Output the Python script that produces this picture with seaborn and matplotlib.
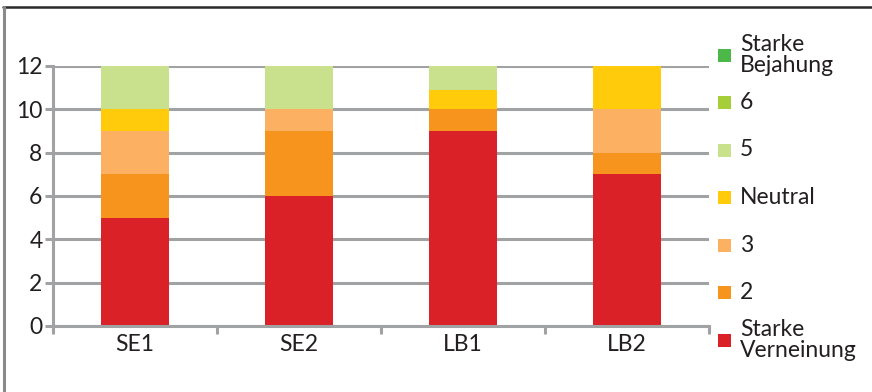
import matplotlib
matplotlib.use("Agg")
import matplotlib.pyplot as plt
from matplotlib.patches import Rectangle
from matplotlib.lines import Line2D
import numpy as np
import pandas as pd
import seaborn as sns

# Answer categories (bottom to top in the stack)
levels = ["Starke\nVerneinung", "2", "3", "Neutral", "5", "6", "Starke\nBejahung"]
colors = ["#da2128", "#f7941d", "#fbb062", "#ffcb0b", "#c9e08c", "#a6ce39", "#4cb848"]

groups = ["SE1", "SE2", "LB1", "LB2"]
starke_verneinung = [5, 6, 9, 7]
stufe_2 = [2, 3, 1, 1]
stufe_3 = [2, 1, 0, 2]
neutral = [1, 0, 0.9, 2]
stufe_5 = [2, 2, 1.1, 0]
stufe_6 = [0, 0, 0, 0]
starke_bejahung = [0, 0, 0, 0]

series = [starke_verneinung, stufe_2, stufe_3, neutral, stufe_5, stufe_6, starke_bejahung]

sns.set_theme(style="white")
plt.rcParams["font.family"] = ["Lato", "DejaVu Sans"]

W, H = 872, 392
fig = plt.figure(figsize=(W / 100, H / 100), dpi=100)
ax = fig.add_axes([53 / W, 66 / H, (709 - 53) / W, (326 - 66) / H])

grid_col = "#a0a2a4"
text_col = "#231f20"
fs = 16.5

# Stacked bars: draw cumulative totals from the top level down
cum = np.cumsum(np.array(series, dtype=float), axis=0)
for i in range(len(levels) - 1, -1, -1):
    df = pd.DataFrame({"group": groups, "value": cum[i]})
    sns.barplot(data=df, x="group", y="value", color=colors[i], width=0.41,
                saturation=1, edgecolor="none", linewidth=0, ax=ax, zorder=2)

ax.set_xlim(-0.5, 3.5)
ax.set_ylim(0, 12)
ax.set_yticks(np.arange(0, 13, 2))
ax.set_xlabel("")
ax.set_ylabel("")
ax.set_axisbelow(True)
ax.yaxis.grid(True, color=grid_col, linewidth=2.2, zorder=0)
ax.xaxis.grid(False)

for side in ["top", "right"]:
    ax.spines[side].set_visible(False)
for side in ["left", "bottom"]:
    ax.spines[side].set_color(grid_col)
    ax.spines[side].set_linewidth(2.2)

ax.tick_params(axis="y", which="major", direction="out", length=6, width=2.2,
               color=grid_col, labelsize=fs, labelcolor=text_col, pad=1.5, left=True)
ax.tick_params(axis="x", which="major", length=0, labelsize=fs,
               labelcolor=text_col, pad=6)
ax.set_xticks(np.arange(-0.5, 3.6, 1.0), minor=True)
ax.tick_params(axis="x", which="minor", direction="out", length=6, width=2.2,
               color=grid_col, bottom=True)

# Legend column on the right: evenly spaced rows, highest level on top
row_top, row_step, box = 55, 47.5, 13
for k, (lab, col) in enumerate(zip(levels[::-1], colors[::-1])):
    yc = row_top + k * row_step
    fig.add_artist(Rectangle((718 / W, 1 - (yc + box / 2) / H), box / W, box / H,
                             facecolor=col, edgecolor="none",
                             transform=fig.transFigure))
    fig.text(740 / W, 1 - yc / H, lab, fontsize=fs, color=text_col,
             ha="left", va="center", linespacing=1.05)

# Outer frame (top and left edges)
fig.add_artist(Line2D([3 / W, 1], [1 - 7 / H, 1 - 7 / H], color="#2b2b2b",
                      linewidth=1.8, transform=fig.transFigure))
fig.add_artist(Line2D([3.5 / W, 3.5 / W], [0, 1 - 7 / H], color="#8a8a8a",
                      linewidth=2.2, transform=fig.transFigure))

fig.savefig("out.png", dpi=100, facecolor="white")
